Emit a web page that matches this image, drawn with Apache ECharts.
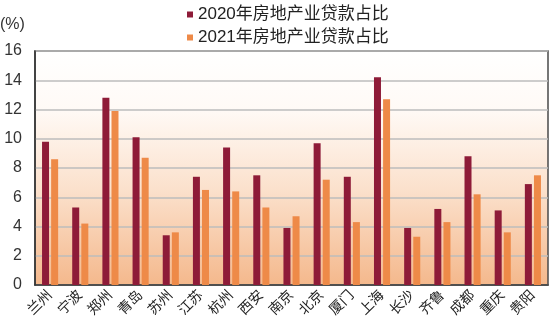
<!DOCTYPE html>
<html>
<head>
<meta charset="utf-8">
<script src="https://cdn.jsdelivr.net/npm/echarts@6/dist/echarts.min.js"></script>
<style>
html,body{margin:0;padding:0;background:#fff;}
#c{width:550px;height:324px;}
</style>
</head>
<body>
<div id="c"></div>
<script>
var cities = ['兰州','宁波','郑州','青岛','苏州','江苏','杭州','西安','南京','北京','厦门','上海','长沙','齐鲁','成都','重庆','贵阳'];
var series2020Name = '2020年房地产业贷款占比';
var series2021Name = '2021年房地产业贷款占比';
var values2020 = [9.8, 5.3, 12.8, 10.1, 3.4, 7.4, 9.4, 7.5, 3.9, 9.7, 7.4, 14.2, 3.9, 5.2, 8.8, 5.1, 6.9];
var values2021 = [8.6, 4.2, 11.9, 8.7, 3.6, 6.5, 6.4, 5.3, 4.7, 7.2, 4.3, 12.7, 3.3, 4.3, 6.2, 3.6, 7.5];
var yTicks = [0, 2, 4, 6, 8, 10, 12, 14, 16];
var unitLabel = '(%)';

var font = '"Liberation Sans", "Noto Sans CJK SC", sans-serif';
var chart = echarts.init(document.getElementById('c'), null, {renderer: 'canvas'});
chart.setOption({
  animation: false,
  backgroundColor: '#ffffff',
  textStyle: {fontFamily: font},
  graphic: [{
    type: 'text', left: 0, top: 17,
    style: {text: unitLabel, fontSize: 16, fill: '#333', fontFamily: font}
  }],
  legend: {
    orient: 'vertical',
    left: 182, top: 1,
    itemWidth: 6, itemHeight: 6,
    itemGap: 6,
    icon: 'rect',
    textStyle: {fontSize: 17, color: '#222', fontFamily: font},
    data: [series2020Name, series2021Name]
  },
  grid: {
    left: 35, right: 2, top: 51, bottom: 39,
    show: true,
    borderColor: '#4a4a4a', borderWidth: 1.5,
    backgroundColor: new echarts.graphic.LinearGradient(0, 0, 0, 1, [
      {offset: 0, color: '#ffffff'},
      {offset: 0.25, color: '#fffaf6'},
      {offset: 0.6, color: '#fbe0cb'},
      {offset: 1, color: '#f4b88c'}
    ])
  },
  xAxis: {
    type: 'category',
    data: cities,
    axisLine: {lineStyle: {color: '#333', width: 1.5}},
    axisTick: {show: false},
    axisLabel: {rotate: 45, fontSize: 14, color: '#222', margin: 8, interval: 0, fontFamily: font}
  },
  yAxis: {
    type: 'value',
    min: yTicks[0], max: yTicks[yTicks.length - 1], interval: 2,
    axisLine: {show: true, lineStyle: {color: '#333', width: 1.5}},
    axisTick: {show: false},
    splitLine: {lineStyle: {color: '#bdbdbd', width: 1.5}},
    axisLabel: {fontSize: 16, color: '#333', margin: 13, padding: [0, 0, 6, 0], fontFamily: font}
  },
  series: [{
    name: series2020Name, type: 'bar', data: values2020,
    barWidth: 7, barGap: '30%',
    itemStyle: {color: '#8e1b38'}
  }, {
    name: series2021Name, type: 'bar', data: values2021,
    barWidth: 7,
    itemStyle: {color: '#ee8a48'}
  }]
});
</script>
</body>
</html>
